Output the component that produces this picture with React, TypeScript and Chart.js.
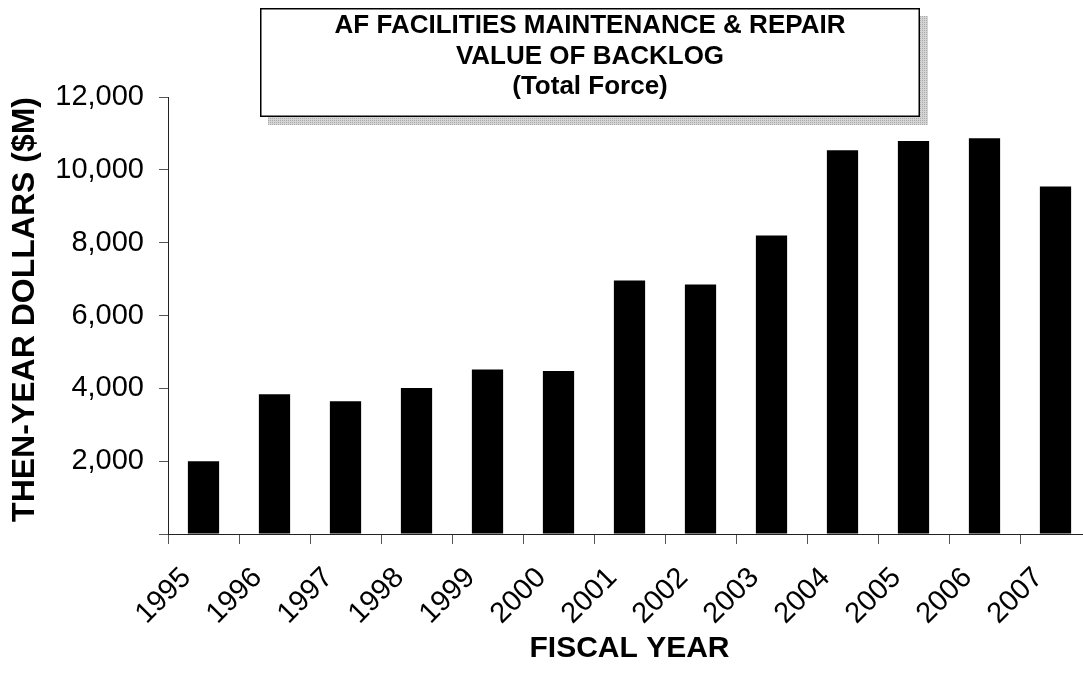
import React, { useEffect, useRef } from 'react';
import { Chart, registerables } from 'chart.js';

Chart.register(...registerables);

const categories = ['1995', '1996', '1997', '1998', '1999', '2000', '2001', '2002', '2003', '2004', '2005', '2006', '2007'];
const backlogValues = [2000, 3840, 3645, 4010, 4515, 4475, 6960, 6850, 8195, 10535, 10795, 10865, 9545];
const titleLines = ['AF FACILITIES MAINTENANCE & REPAIR', 'VALUE OF BACKLOG', '(Total Force)'];
const xAxisTitle = 'FISCAL YEAR';
const yAxisTitle = 'THEN-YEAR DOLLARS ($M)';
const yMin = 0;
const yMax = 12000;
const yStep = 2000;

const FONT = '"Liberation Sans", Arial, Helvetica, sans-serif';

function makeShadowPattern(ctx: CanvasRenderingContext2D) {
  const c = document.createElement('canvas');
  c.width = 4;
  c.height = 4;
  const p = c.getContext('2d')!;
  p.fillStyle = '#d4d4d4';
  p.fillRect(0, 0, 4, 4);
  p.fillStyle = '#ababab';
  p.fillRect(0, 0, 1, 1);
  p.fillRect(2, 2, 1, 1);
  p.fillRect(2, 0, 1, 1);
  p.fillRect(0, 2, 1, 1);
  return ctx.createPattern(c, 'repeat');
}

const titleBoxPlugin = {
  id: 'titleBox',
  afterDraw(chart: any) {
    const ctx: CanvasRenderingContext2D = chart.ctx;
    const bx = 260, by = 8, bw = 660, bh = 109, sh = 8;
    ctx.save();
    const pat = makeShadowPattern(ctx);
    ctx.fillStyle = pat || '#bbbbbb';
    ctx.fillRect(bx + sh, by + sh, bw, bh);
    ctx.fillStyle = '#ffffff';
    ctx.fillRect(bx, by, bw, bh);
    ctx.lineWidth = 1.5;
    ctx.strokeStyle = '#000000';
    ctx.strokeRect(bx + 0.75, by + 0.75, bw - 1.5, bh - 1.5);
    ctx.fillStyle = '#000000';
    ctx.font = `bold 26px ${FONT}`;
    ctx.textAlign = 'center';
    ctx.textBaseline = 'middle';
    titleLines.forEach((line, i) => {
      ctx.fillText(line, bx + bw / 2, by + 18 + i * 30.5);
    });
    ctx.restore();
  },
};

export default function App() {
  const canvasRef = useRef<HTMLCanvasElement | null>(null);

  useEffect(() => {
    if (!canvasRef.current) return;
    const chart = new Chart(canvasRef.current, {
      type: 'bar',
      data: {
        labels: categories,
        datasets: [
          {
            label: 'Backlog',
            data: backlogValues,
            backgroundColor: '#000000',
            borderWidth: 0,
            barPercentage: 0.44,
            categoryPercentage: 1,
          },
        ],
      },
      options: {
        responsive: false,
        animation: false,
        layout: { padding: { top: 97, right: 9, left: 0, bottom: 0 } },
        plugins: {
          legend: { display: false },
          tooltip: { enabled: false },
          title: { display: false },
        },
        scales: {
          x: {
            type: 'category',
            offset: true,
            afterFit: (s: any) => {
              s.height = 143;
            },
            grid: {
              display: true,
              offset: true,
              drawOnChartArea: false,
              drawTicks: true,
              tickLength: 10,
              color: '#555555',
              lineWidth: 1,
            },
            border: { display: true, color: '#222222', width: 1 },
            ticks: {
              autoSkip: false,
              maxRotation: 45,
              minRotation: 45,
              labelOffset: -17,
              padding: 17,
              color: '#000000',
              font: { family: FONT, size: 29 },
            },
            title: {
              display: true,
              text: xAxisTitle,
              color: '#000000',
              font: { family: FONT, size: 30, weight: 'bold' },
              padding: { top: 0, bottom: 10 },
            },
          },
          y: {
            min: yMin,
            max: yMax,
            afterFit: (s: any) => {
              s.width = 168;
            },
            grid: {
              display: true,
              drawOnChartArea: false,
              drawTicks: true,
              tickLength: 9,
              color: '#555555',
              lineWidth: 1,
            },
            border: { display: true, color: '#222222', width: 1 },
            ticks: {
              stepSize: yStep,
              padding: 15,
              color: '#000000',
              font: { family: FONT, size: 29 },
              callback: (v: any) => (Number(v) === 0 ? '' : Number(v).toLocaleString('en-US')),
            },
            title: {
              display: true,
              text: yAxisTitle,
              align: 'end',
              color: '#000000',
              font: { family: FONT, size: 32, weight: 'bold' },
              padding: { top: 6, bottom: 0 },
            },
          },
        },
      },
      plugins: [titleBoxPlugin],
    });
    return () => chart.destroy();
  }, []);

  return (
    <div
      style={{
        position: 'fixed',
        left: 0,
        top: 0,
        width: 1083,
        height: 677,
        overflow: 'hidden',
        background: '#ffffff',
      }}
    >
      <canvas ref={canvasRef} width={1100} height={677} style={{ display: 'block', width: 1100, height: 677 }} />
    </div>
  );
}
